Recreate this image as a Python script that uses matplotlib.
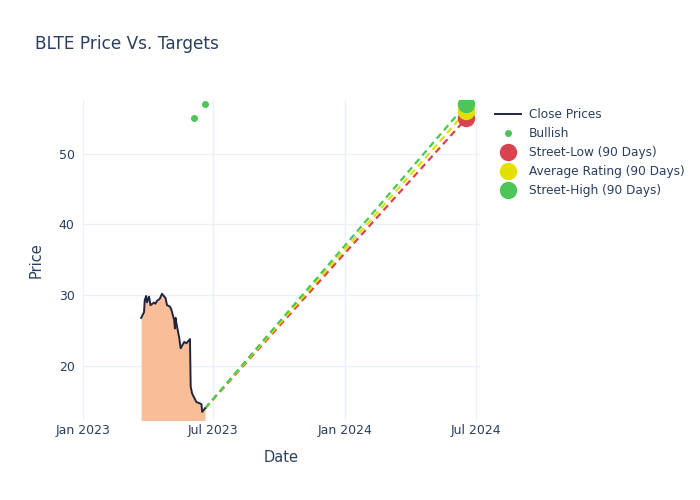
import pandas as pd
import matplotlib.pyplot as plt
import matplotlib.dates as mdates

# close prices
close_dates = ["2023-03-23", "2023-03-27", "2023-03-28", "2023-03-30", "2023-03-31", "2023-04-03",
               "2023-04-05", "2023-04-10", "2023-04-12", "2023-04-14", "2023-04-18", "2023-04-21",
               "2023-04-26", "2023-04-28", "2023-05-02", "2023-05-04", "2023-05-08", "2023-05-09",
               "2023-05-10", "2023-05-11", "2023-05-15", "2023-05-17", "2023-05-22", "2023-05-25",
               "2023-05-30", "2023-05-31", "2023-06-02", "2023-06-06", "2023-06-08", "2023-06-13",
               "2023-06-15", "2023-06-16", "2023-06-20"]
close_prices = [26.8, 27.6, 29.3, 29.9, 29.0, 29.8,
                28.6, 28.95, 28.8, 29.2, 29.5, 30.2,
                29.6, 28.6, 28.4, 28.0, 26.5, 25.3,
                26.8, 26.1, 24.0, 22.5, 23.4, 23.2,
                23.8, 17.1, 16.1, 15.3, 14.9, 14.7,
                14.6, 13.5, 14.0]

bullish_dates = ["2023-06-04", "2023-06-20"]
bullish_prices = [55, 57]

target_date = "2024-06-18"
target_names = ["Street-Low (90 Days)", "Average Rating (90 Days)", "Street-High (90 Days)"]
target_values = [55, 56, 57]
target_colors = ["#d9434f", "#e2e000", "#4cc559"]

txt = "#2a3f5f"
grid = "#ebf0f8"
plt.rcParams["font.family"] = ["DejaVu Sans"]

cd = pd.to_datetime(close_dates)
fig = plt.figure(figsize=(7, 5), dpi=100)
ax = fig.add_axes([0.1186, 0.16, 0.567, 0.64])

ax.fill_between(cd, close_prices, 0, color="#f9bd98", linewidth=0, zorder=1)
ax.plot(cd, close_prices, color="#1f2540", linewidth=1.4, label="Close Prices", zorder=3)
ax.plot(pd.to_datetime(bullish_dates), bullish_prices, "o", color="#4cc559", markersize=4,
        linestyle="none", label="Bullish", zorder=4)

td = pd.to_datetime(target_date)
for name, val, col in zip(target_names, target_values, target_colors):
    ax.plot([cd[-1], td], [close_prices[-1], val], color=col, linestyle=(0, (3, 2)),
            linewidth=1.6, zorder=2)
    ax.plot([td], [val], "o", color=col, markersize=11.5, linestyle="none",
            label=name, zorder=5)

ax.set_xlim(pd.Timestamp("2023-01-01"), pd.Timestamp("2024-07-07"))
ax.set_ylim(12.36, 57.6)
ax.set_yticks([20, 30, 40, 50])
ax.xaxis.set_major_locator(mdates.MonthLocator(bymonth=[1, 7]))
ax.xaxis.set_major_formatter(mdates.DateFormatter("%b %Y"))
ax.grid(True, color=grid, linewidth=1)
ax.set_axisbelow(True)
for s in ax.spines.values():
    s.set_visible(False)
ax.tick_params(colors=txt, labelsize=9, length=0)
ax.tick_params(axis="x", pad=3)
ax.tick_params(axis="y", pad=6)

ax.set_xlabel("Date", color=txt, fontsize=10.5, labelpad=9)
ax.set_ylabel("Price", color=txt, fontsize=10.5, labelpad=11)
fig.text(0.05, 0.912, "BLTE Price Vs. Targets", color=txt, fontsize=12.2, va="center")

leg = ax.legend(loc="upper left", bbox_to_anchor=(1.025, 0.99), frameon=False,
                fontsize=8.7, labelcolor=txt, handlelength=2.2, handletextpad=0.6,
                labelspacing=0.5, borderaxespad=0)

plt.savefig("out.png")
